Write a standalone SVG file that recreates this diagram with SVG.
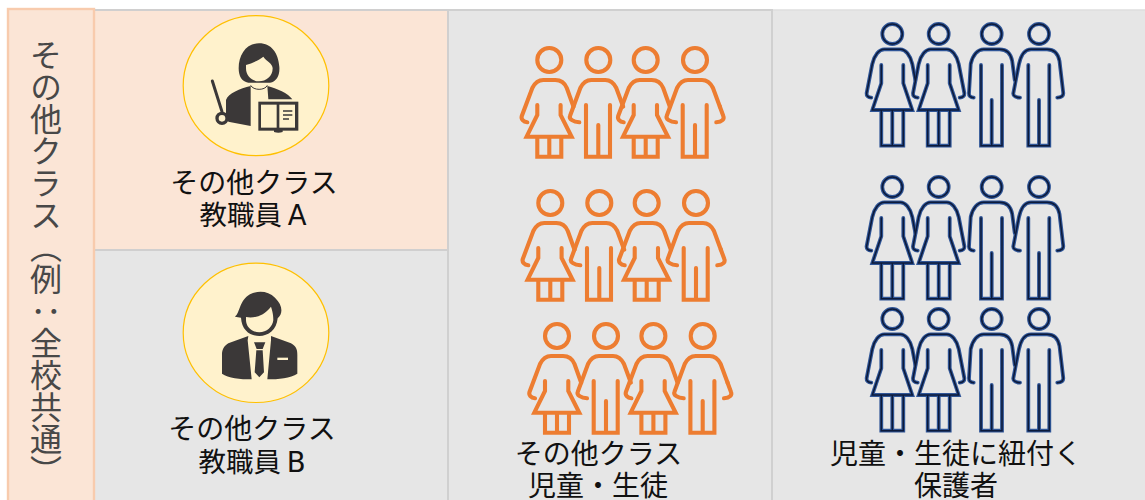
<svg xmlns="http://www.w3.org/2000/svg" xmlns:xlink="http://www.w3.org/1999/xlink" width="1145" height="500" viewBox="0 0 1145 500">
<style>
text{font-family:"DejaVu Sans","Noto Sans CJK JP",sans-serif;fill:#111}
.lbl{font-size:28px;text-anchor:middle}
.ab{word-spacing:-3px;font-size:27.5px}
.vert{font-size:32px;fill:#484848;writing-mode:vertical-rl;font-family:"Noto Sans CJK JP",sans-serif}
.panel{fill:#e6e6e6;stroke:#d0d0d0;stroke-width:2}
.peach{fill:#fbe5d6}
.disc{fill:#fff2cc;stroke:#ffc000;stroke-width:1.2}
.dk{fill:#3b3838}
.cr{fill:#fff2cc}
.fig{fill:none;stroke-linecap:round;stroke-linejoin:miter}
.o{stroke:#ed7d31;stroke-width:4.1}
.nb{stroke:#2f5597;stroke-width:3.8}
.nd{stroke:#0c1a3a;stroke-width:1.5}
</style>
<defs>
<g id="ow" class="fig"><circle r="12"/><path d="M-22,62.3C-26,62-28.5,59-27.5,56L-17,28C-14,22-10,20-6,20H6C11,20,15,22,17.5,28L24.2,46.7M-12,45V55L-22.7,76.7H22.3L11.3,55V45M-12,76.7V96.7H12V76.7M0,76.7V96.7"/></g>
<g id="om" class="fig"><circle r="12"/><path d="M-19,62.3C-25,62-29.5,59-28.3,56L-18,28C-15,22-11,20-7,20H7C11,20,15,22,18,28L24.9,46.7M-12.3,45V96.7H11.7V45M0,65V96.7"/></g>
<g id="nw1" class="fig"><circle r="10"/><path d="M-21,63.7C-24,63.5-26,62-25.7,59.3L-20,30C-18,21-13,15.3-8,15.3H8C13,15.3,18,21,20,30L23,46M-11,31V49.3L-20,76H20L11,49.3V31M-11,76V111.7H11V76M0,76V111.7"/></g>
<g id="nw2" class="fig"><circle r="10"/><path d="M-21,63.7C-24,63.5-26,62-25.7,59.3L-20,30C-18,21-13,15.3-8,15.3H8C13,15.3,18,21,20,30L25.7,59.3C26,62,24,63.5,21,63.7M-11,31V49.3L-20,76H20L11,49.3V31M-11,76V111.7H11V76M0,76V111.7"/></g>
<g id="nm1" class="fig"><circle r="10"/><path d="M-18,63.7C-21,63.5-23,62-22.7,59.3L-21,30C-19,21-14,15.3-8,15.3H8C14,15.3,19,19,20.5,27L23,46M-10.7,31V111.7H10.3V31M0,66V111.7"/></g>
<g id="nm2" class="fig"><circle r="10"/><path d="M-19,63.7C-23,63.5-26,62-25.7,59.3L-20,30C-18,21-14,15.3-8,15.3H8C14,15.3,19,19,20.5,27L24.3,59.3C24.3,62,22,63.5,18.3,63.7M-10.7,31V111.7H10.3V31M0,66V111.7"/></g>
<g id="orow"><use xlink:href="#ow" href="#ow" x="0"/><use xlink:href="#om" href="#om" x="49"/><use xlink:href="#ow" href="#ow" x="96.4"/><use xlink:href="#om" href="#om" x="145.7"/><path class="fig" d="M170.6,46.7L174,56C175.2,59,173,62,167,62.3"/></g>
<g id="nrowl"><use xlink:href="#nw1" href="#nw1" x="0"/><use xlink:href="#nw2" href="#nw2" x="46.4"/><use xlink:href="#nm1" href="#nm1" x="99.4"/><use xlink:href="#nm2" href="#nm2" x="146.7"/></g>
</defs>

<g id="col-parents"><rect x="772" y="10" width="380" height="500" fill="#e6e6e6" stroke="#dedede" stroke-width="1.5"/></g>
<g id="col-students"><rect class="panel" x="448" y="10" width="324" height="500"/></g>
<g id="teacher-b-panel"><rect class="panel" x="94" y="250" width="354" height="260"/></g>
<g id="teacher-a-panel"><rect x="94" y="10" width="354" height="240" fill="#fbe5d6" stroke="#d0cfcf" stroke-width="2"/></g>
<g id="side"><rect class="peach" x="8" y="9" width="86" height="500" stroke="#f8cbad" stroke-width="2.4"/>
<text class="vert" x="46" y="39">その他クラス（例：全校共通）</text></g>

<g id="teacher-a">
<ellipse class="disc" cx="256" cy="85.7" rx="72.8" ry="70"/>
<g transform="translate(160,0) scale(.33333)">
<path class="dk" d="M297,130C258,130 236,165 236,205C236,228 245,245 265,248L330,248C350,245 360,225 358,200C355,160 335,130 297,130Z"/>
<path class="cr" d="M258,195C275,190 295,182 310,170C320,185 338,190 338,205C338,230 318,244 297,244C275,244 258,228 258,205Z"/>
<path class="dk" d="M272,258C240,265 205,280 198,300L198,345L205,365L272,378ZM322,258C350,265 385,280 397,298L325,298Z"/>
<path d="M272,256C280,272 315,272 322,256" fill="none" stroke="#3b3838" stroke-width="3"/>
<path d="M157,243L186,335" stroke="#3b3838" stroke-width="9" stroke-linecap="round"/>
<circle cx="186" cy="355" r="15" fill="#fff2cc" stroke="#3b3838" stroke-width="10"/>
<path class="dk" d="M342,390H368V396Q355,400 342,396Z"/>
<rect class="dk" x="295" y="305" width="120" height="87"/>
<rect class="cr" x="303" y="314" width="47" height="69"/><rect class="cr" x="358" y="314" width="47" height="69"/>
<path d="M369,333H397M369,345H397M369,357H387" stroke="#3b3838" stroke-width="5"/>
</g>
<text class="lbl" x="254" y="193">その他クラス</text>
<text class="lbl ab" x="253" y="225">教職員 A</text>
</g>

<g id="teacher-b">
<ellipse class="disc" cx="256" cy="332.8" rx="72.8" ry="69.7"/>
<g transform="translate(160,255) scale(.33333)">
<path class="dk" d="M225,185C240,175 238,135 270,118C295,105 325,108 345,128C368,150 370,175 353,190C350,225 325,243 298,243C270,243 245,225 243,188Z"/>
<path class="cr" d="M258,186C280,190 310,185 333,155C340,175 340,190 340,195C338,215 320,232 298,232C275,232 258,215 258,195Z"/>
<path class="dk" d="M265,243L205,265C190,275 186,285 186,300V356C205,370 240,373 275,373L263,256ZM333,243L393,265C410,275 412,285 412,300V356C392,370 355,373 322,373L333,256Z"/>
<path class="dk" d="M282,262H316L308,282H290ZM289,286H308L312,352L298,367L284,352Z"/>
<rect class="cr" x="352" y="308" width="32" height="7"/>
</g>
<text class="lbl" x="252" y="439">その他クラス</text>
<text class="lbl ab" x="252" y="472">教職員 B</text>
</g>

<g id="students" class="o">
<use xlink:href="#orow" href="#orow" x="549.3" y="60"/>
<use xlink:href="#orow" href="#orow" x="550.3" y="203"/>
<use xlink:href="#orow" href="#orow" x="557" y="336"/>
<text class="lbl" style="stroke:none" x="598.5" y="464">その他クラス</text>
<text class="lbl" style="stroke:none" x="598" y="496">児童・生徒</text>
</g>

<g id="parents">
<g class="nb"><use xlink:href="#nrowl" href="#nrowl" x="892.3" y="34"/><use xlink:href="#nrowl" href="#nrowl" x="892.3" y="187"/><use xlink:href="#nrowl" href="#nrowl" x="892.3" y="319"/></g>
<g class="nd"><use xlink:href="#nrowl" href="#nrowl" x="892.3" y="34"/><use xlink:href="#nrowl" href="#nrowl" x="892.3" y="187"/><use xlink:href="#nrowl" href="#nrowl" x="892.3" y="319"/></g>
<text class="lbl" x="956" y="464">児童・生徒に紐付く</text>
<text class="lbl" x="956" y="496">保護者</text>
</g>
</svg>
